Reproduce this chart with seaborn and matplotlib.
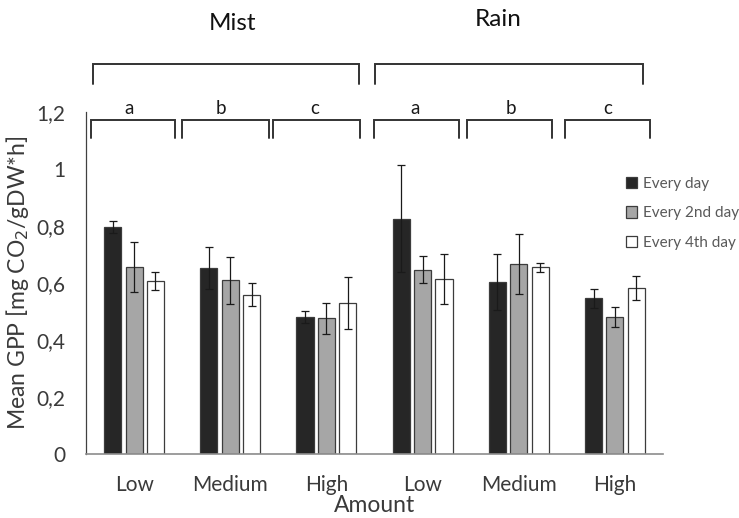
import matplotlib
matplotlib.use("Agg")
import matplotlib.pyplot as plt
from matplotlib.patches import Patch
import seaborn as sns
import pandas as pd

# ---- data ----
treatments = ["Mist", "Mist", "Mist", "Rain", "Rain", "Rain"]
amounts = ["Low", "Medium", "High", "Low", "Medium", "High"]
frequencies = ["Every day", "Every 2nd day", "Every 4th day"]
every_day = [0.797, 0.654, 0.482, 0.826, 0.604, 0.546]
every_2nd = [0.656, 0.609, 0.476, 0.647, 0.667, 0.480]
every_4th = [0.606, 0.559, 0.530, 0.613, 0.655, 0.581]
err_every_day = [0.022, 0.074, 0.021, 0.188, 0.097, 0.033]
err_every_2nd = [0.087, 0.082, 0.055, 0.048, 0.105, 0.036]
err_every_4th = [0.031, 0.040, 0.091, 0.088, 0.016, 0.042]
y_ticks = [0, 0.2, 0.4, 0.6, 0.8, 1.0, 1.2]
y_tick_labels = ["0", "0,2", "0,4", "0,6", "0,8", "1", "1,2"]
group_letters = ["a", "b", "c", "a", "b", "c"]

colors = {"Every day": "#262626", "Every 2nd day": "#a6a6a6", "Every 4th day": "#ffffff"}

conds = [f"{t}-{a}" for t, a in zip(treatments, amounts)]
rows = []
for freq, vals in zip(frequencies, [every_day, every_2nd, every_4th]):
    for c, v in zip(conds, vals):
        rows.append({"cond": c, "freq": freq, "gpp": v})
df = pd.DataFrame(rows)

sns.set_style("white")
plt.rcParams["font.family"] = ["Lato", "DejaVu Sans"]
TXT = "#3a3a3a"

fig = plt.figure(figsize=(7.39, 5.18), dpi=100)
W, H = 739, 518
ax = fig.add_axes([86 / W, 1 - 454 / H, (663 - 86) / W, (454 - 112) / H])

sns.barplot(data=df, x="cond", y="gpp", hue="freq", order=conds,
            hue_order=frequencies, palette=colors, width=0.667, gap=0.2,
            edgecolor="#3c3c3c", linewidth=0.9, errorbar=None, legend=False, ax=ax)

for cont, errs in zip(ax.containers, [err_every_day, err_every_2nd, err_every_4th]):
    xs = [p.get_x() + p.get_width() / 2 for p in cont]
    ys = [p.get_height() for p in cont]
    ax.errorbar(xs, ys, yerr=errs, fmt="none", ecolor="#1a1a1a",
                elinewidth=0.9, capsize=2.8, capthick=0.9, zorder=5)

ax.set_xlim(-0.5, 5.5)
ax.set_ylim(0, 1.2)
ax.set_yticks(y_ticks)
ax.set_yticklabels(y_tick_labels)
ax.set_xticks(range(len(amounts)))
ax.set_xticklabels(amounts)
ax.tick_params(axis="both", length=0, colors=TXT, labelsize=15)
ax.tick_params(axis="y", pad=15)
ax.tick_params(axis="x", pad=15)

for s in ["top", "right"]:
    ax.spines[s].set_visible(False)
ax.spines["left"].set_color("#404040")
ax.spines["left"].set_linewidth(0.9)
ax.spines["bottom"].set_color("#8c8c8c")
ax.spines["bottom"].set_linewidth(1.2)

ax.set_xlabel("Amount", fontsize=16.5, color=TXT, labelpad=0)
ax.set_ylabel("Mean GPP [mg CO$_2$/gDW*h]", fontsize=16.5, color=TXT)
ax.yaxis.set_label_coords(-0.095, 0.5)

# brackets
LC = "#333333"
def bracket(x0, x1, ytop, ybot):
    ax.plot([x0, x0, x1, x1], [ybot, ytop, ytop, ybot], color=LC, lw=1.4,
            clip_on=False, solid_joinstyle="miter")

bracket(-0.43, 2.34, 1.367, 1.300)
bracket(2.51, 5.29, 1.367, 1.300)
small = [(-0.45, 0.43), (0.50, 1.40), (1.44, 2.35), (2.49, 3.38), (3.46, 4.35), (4.48, 5.37)]
letter_x = [-0.05, 0.905, 1.873, 2.924, 3.92, 4.92]
for (x0, x1), lx, lt in zip(small, letter_x, group_letters):
    bracket(x0, x1, 1.172, 1.109)
    ax.text(lx, 1.211, lt, ha="center", va="center", fontsize=13.5, color="#1a1a1a", clip_on=False)

ax.text(1.02, 1.512, "Mist", ha="center", va="center", fontsize=17.5, color="#111111", clip_on=False)
ax.text(3.79, 1.523, "Rain", ha="center", va="center", fontsize=17.5, color="#111111", clip_on=False)

handles = [Patch(facecolor=colors[f], edgecolor="#3c3c3c", linewidth=0.9, label=f) for f in frequencies]
leg = ax.legend(handles=handles, loc="upper left", bbox_to_anchor=(626 / W, 1 - 177 / H),
                bbox_transform=fig.transFigure, frameon=False, fontsize=11,
                borderpad=0, borderaxespad=0, handlelength=0.75, handleheight=0.75,
                handletextpad=0.35, labelspacing=1.0)
for t in leg.get_texts():
    t.set_color("#595959")

fig.savefig("out.png", dpi=100)
